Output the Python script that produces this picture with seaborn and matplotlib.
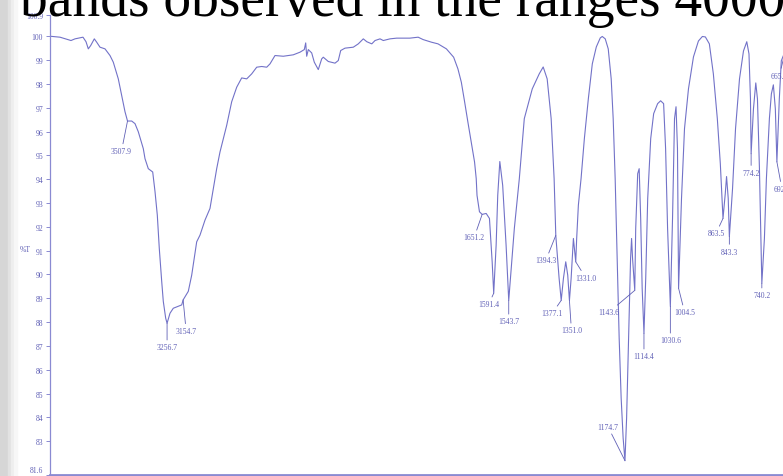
import matplotlib
matplotlib.use('Agg')
import matplotlib.pyplot as plt
import seaborn as sns
import numpy as np
from matplotlib.patches import Rectangle

# spectrum (wavenumber in cm-1, %T)
wavenumber = [4000.0, 3936.5, 3866.7, 3841.3, 3790.5, 3771.4, 3756.8, 3741.6, 3718.7, 3703.5,
              3682.6, 3650.8, 3619.1, 3598.1, 3566.4, 3544.8, 3523.8, 3507.9, 3481.3, 3460.3,
              3439.4, 3407.6, 3396.8, 3375.9, 3347.9, 3333.3, 3318.7, 3306.1, 3290.8, 3280.7,
              3265.4, 3256.7, 3238.1, 3217.2, 3163.8, 3154.7, 3121.9, 3100.3, 3068.6, 3047.6,
              3015.9, 2984.2, 2963.2, 2941.6, 2920.7, 2878.1, 2846.4, 2814.6, 2782.9, 2751.1,
              2719.4, 2687.6, 2655.9, 2624.1, 2603.2, 2571.4, 2518.8, 2455.3, 2412.8, 2385.4,
              2376.5, 2370.2, 2360.0, 2338.5, 2321.9, 2296.6, 2274.9, 2264.8, 2233.1, 2190.5,
              2169.6, 2154.3, 2127.0, 2074.3, 2042.6, 2010.8, 1994.3, 1978.5, 1968.1, 1952.3,
              1941.9, 1920.7, 1899.6, 1857.5, 1831.3, 1815.5, 1789.0, 1768.2, 1741.6, 1718.6,
              1705.0, 1694.2, 1683.8, 1673.4, 1662.7, 1652.2, 1646.9, 1644.4, 1636.6, 1628.1,
              1615.3, 1604.9, 1596.3, 1591.4, 1583.7, 1578.6, 1572.0, 1562.9, 1552.1, 1543.7,
              1525.9, 1510.1, 1494.3, 1469.0, 1446.9, 1434.3, 1421.7, 1409.0, 1399.6, 1394.3,
              1383.8, 1377.1, 1370.0, 1362.7, 1356.4, 1351.0, 1345.6, 1338.4, 1331.0, 1328.0,
              1322.6, 1314.1, 1303.6, 1291.0, 1278.4, 1265.7, 1253.1, 1246.8, 1237.3, 1227.8,
              1218.4, 1212.1, 1205.8, 1199.4, 1193.1, 1186.8, 1180.5, 1174.7, 1169.5, 1163.2,
              1156.9, 1153.7, 1150.6, 1143.6, 1140.6, 1134.3, 1129.6, 1124.8, 1120.1, 1114.4,
              1108.8, 1102.5, 1093.0, 1083.6, 1071.0, 1061.5, 1052.0, 1045.7, 1039.4, 1030.6,
              1023.7, 1017.4, 1012.6, 1008.0, 1004.5, 995.2, 985.7, 973.1, 957.3, 941.5,
              928.9, 919.4, 906.8, 894.1, 881.5, 872.0, 863.5, 856.3, 852.2, 846.9,
              843.3, 833.2, 823.7, 811.1, 798.5, 788.0, 781.0, 776.3, 774.2, 766.8,
              759.4, 754.1, 747.8, 743.1, 740.2, 732.0, 725.7, 716.2, 709.9, 703.6,
              697.3, 692.4, 684.7, 678.4, 665.3]
transmittance = [100.00, 99.96, 99.82, 99.89, 99.96, 99.77, 99.47, 99.61, 99.89, 99.75,
                 99.54, 99.47, 99.19, 98.91, 98.21, 97.51, 96.83, 96.44, 96.44, 96.33,
                 95.99, 95.28, 94.86, 94.44, 94.30, 93.48, 92.49, 91.09, 89.71, 88.87,
                 88.16, 87.95, 88.37, 88.58, 88.72, 88.93, 89.29, 89.97, 91.37, 91.65,
                 92.28, 92.77, 93.60, 94.44, 95.14, 96.26, 97.25, 97.86, 98.25, 98.21,
                 98.42, 98.70, 98.73, 98.70, 98.84, 99.19, 99.16, 99.22, 99.33, 99.44,
                 99.72, 99.16, 99.44, 99.30, 98.91, 98.60, 99.05, 99.12, 98.94, 98.87,
                 98.98, 99.40, 99.50, 99.54, 99.68, 99.89, 99.77, 99.68, 99.82, 99.89,
                 99.82, 99.89, 99.92, 99.92, 99.96, 99.86, 99.75, 99.68, 99.47, 99.12,
                 98.63, 98.07, 97.25, 96.40, 95.56, 94.72, 94.02, 93.32, 92.63, 92.52,
                 92.56, 92.35, 90.53, 89.21, 91.23, 93.32, 94.74, 93.74, 91.23, 88.91,
                 91.93, 94.02, 96.54, 97.79, 98.42, 98.71, 98.21, 96.54, 94.02, 91.64,
                 89.84, 88.91, 89.84, 90.53, 89.97, 88.91, 89.84, 91.51, 90.53, 91.51,
                 92.91, 94.02, 95.70, 97.37, 98.84, 99.55, 99.93, 99.99, 99.89, 99.47,
                 98.21, 96.54, 94.02, 90.67, 87.32, 84.81, 83.13, 82.18, 83.97, 87.32,
                 90.67, 91.51, 90.67, 89.33, 91.93, 94.23, 94.44, 92.35, 89.42, 87.53,
                 89.84, 93.19, 95.70, 96.75, 97.17, 97.29, 97.17, 95.28, 91.93, 88.66,
                 92.35, 96.54, 97.04, 95.28, 89.42, 93.19, 96.12, 97.79, 99.13, 99.80,
                 99.99, 99.97, 99.68, 98.42, 96.54, 94.65, 92.35, 93.39, 94.11, 93.19,
                 91.59, 93.60, 96.12, 98.21, 99.38, 99.77, 99.26, 97.37, 95.07, 96.95,
                 98.04, 97.37, 94.44, 91.51, 89.63, 91.51, 94.02, 96.54, 97.58, 97.96,
                 96.95, 94.73, 97.37, 98.97, 99.40]

# picked peaks
peak_labels = ['3507.9', '3256.7', '3154.7', '1651.2', '1591.4', '1543.7', '1394.3',
               '1377.1', '1351.0', '1331.0', '1174.7', '1143.6', '1114.4', '1030.6',
               '1004.5', '863.5', '843.3', '774.2', '740.2', '692.4', '665.3']
peak_wn = [3507.9, 3256.7, 3154.7, 1628.1, 1591.4, 1543.7, 1394.3,
           1377.1, 1351.0, 1331.0, 1174.7, 1143.6, 1114.4, 1030.6,
           1004.5, 863.5, 843.3, 774.2, 740.2, 692.4, 665.3]
peak_t = [96.44, 87.95, 88.93, 92.52, 89.21, 88.91, 91.64,
          88.91, 88.91, 90.53, 82.18, 89.33, 87.53, 88.66,
          89.42, 92.35, 91.59, 95.07, 89.63, 94.73, 99.40]

ytick_values = [81.6, 83, 84, 85, 86, 87, 88, 89, 90, 91, 92, 93, 94, 95, 96, 97, 98, 99, 100, 100.9]
ytick_labels = ['81.6', '83', '84', '85', '86', '87', '88', '89', '90', '91', '92', '93',
                '94', '95', '96', '97', '98', '99', '100', '100.9']

# label placement (pixel offsets from the peak point)
label_offsets = [(-6, -30), (0, -24), (3, -31), (-8, -23), (-5, -11), (0, -21), (-10, -25),
                 (-9, -13), (2, -30), (10, -16), (-17, 34), (-26, -22), (0, -23), (0, -34),
                 (6, -24), (-7, -15), (0, -15), (0, -19), (0, -12), (5, -27), (-6, -25)]

line_col = '#7272c8'
text_col = '#6060b6'
axis_col = '#8a8ad2'

sns.set_style('white')
plt.rcParams['font.family'] = ['Liberation Serif', 'DejaVu Serif']

W, H = 783, 477
fig = plt.figure(figsize=(W / 100, H / 100), dpi=100)

# grey strip on the left of the screenshot
for x0, w, c in [(0, 8, '#d6d6d6'), (8, 3, '#e2e2e2'), (11, 3, '#eeeeee'), (14, 3, '#f7f7f7')]:
    fig.patches.append(Rectangle((x0 / W, 0), w / W, 1, transform=fig.transFigure,
                                 color=c, zorder=0))

# caption text cut off at the top
fig.text(20 / W, 1 - 16 / H, 'bands observed in the ranges 4000-400', fontsize=40,
         family='Liberation Serif', color='black', va='baseline', ha='left')

ax = fig.add_axes([50 / W, 1.5 / H, 1 - 50 / W, (475.5 - 15.8) / H])
ax.patch.set_alpha(0)


# 4000-2000 drawn at half the scale of 2000-400
def fwd(w):
    w = np.asarray(w, dtype=float)
    return np.where(w >= 2000, w, 2 * w - 2000)


def inv(u):
    u = np.asarray(u, dtype=float)
    return np.where(u >= 2000, u, (u + 2000) / 2)


sns.lineplot(x=wavenumber, y=transmittance, ax=ax, color=line_col, lw=0.8,
             estimator=None, sort=False)
ax.set_xscale('function', functions=(fwd, inv))
ax.set_xlim(4000, 673)
ax.set_ylim(81.6, 100.9)

for lab, w, t, (dx, dy) in zip(peak_labels, peak_wn, peak_t, label_offsets):
    ax.annotate(lab, xy=(w, t), xytext=(dx, dy), textcoords='offset pixels',
                ha='center', va='center', fontsize=5.5, color=text_col,
                arrowprops=dict(arrowstyle='-', color=text_col, lw=0.6,
                                shrinkA=0, shrinkB=0),
                annotation_clip=False)

ax.set_yticks(ytick_values)
ax.set_yticklabels(ytick_labels)
ax.set_xticks([])
ax.tick_params(axis='y', direction='out', length=3, width=0.7, color=axis_col,
               labelcolor=text_col, labelsize=5.5, pad=2, left=True)
ax.get_yticklabels()[0].set_va('bottom')
for s in ['top', 'right']:
    ax.spines[s].set_visible(False)
ax.spines['left'].set_color(axis_col)
ax.spines['left'].set_linewidth(0.9)
ax.spines['bottom'].set_color(axis_col)
ax.spines['bottom'].set_linewidth(2)
ax.set_xlabel('')
ax.set_ylabel('')

fig.text(25 / W, 1 - 250 / H, '%T', fontsize=5.5, color=text_col, ha='center', va='center')

fig.savefig('out.png', dpi=100)
